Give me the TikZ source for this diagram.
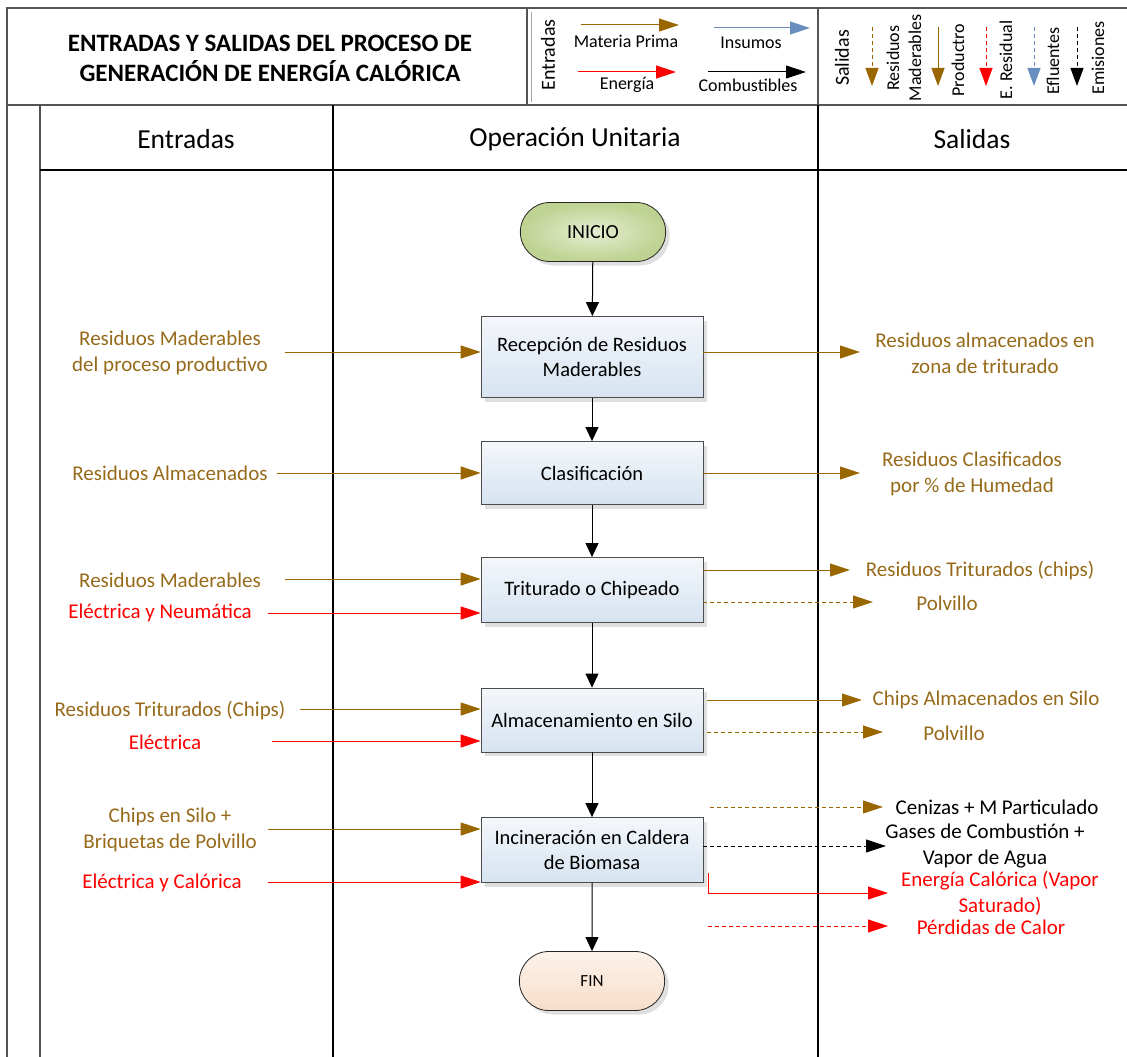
\documentclass[tikz,border=0pt]{standalone}
\usepackage{fontspec}
\setmainfont{Carlito}
\usetikzlibrary{arrows.meta,shadows,shapes.misc}
\definecolor{brn}{RGB}{153,102,0}
\definecolor{brntxt}{RGB}{150,106,26}
\definecolor{bluec}{RGB}{104,142,192}
\definecolor{poolc}{RGB}{85,85,85}
\definecolor{boxtop}{RGB}{244,247,251}
\definecolor{boxbot}{RGB}{214,227,240}
\begin{document}
\begin{tikzpicture}[x=1pt,y=-1pt,
  frame/.style={draw=poolc, line width=1.6pt},
  divider/.style={draw=black, line width=1.2pt},
  proc/.style={draw=gray!60!black, line width=0.8pt, minimum width=222pt, minimum height=64pt,
     top color=boxtop, bottom color=boxbot, align=center, font=\fontsize{20.5}{25}\selectfont,
     drop shadow={shadow xshift=4pt, shadow yshift=-4pt, fill=gray!50, opacity=0.5}},
  term/.style={rounded rectangle, draw=gray!30!black, line width=0.8pt, minimum width=152pt, minimum height=59pt,
     font=\fontsize{20}{22}\selectfont,
     drop shadow={shadow xshift=4pt, shadow yshift=-4pt, fill=gray!50, opacity=0.5}},
  lbl/.style={align=center, font=\fontsize{21}{26}\selectfont, inner sep=0pt},
  brtxt/.style={lbl, text=brntxt},
  rdtxt/.style={lbl, text=red},
  bktxt/.style={lbl, text=black},
  hdr/.style={font=\fontsize{27.5}{30}\selectfont},
  legtxt/.style={font=\fontsize{18}{22}\selectfont, inner sep=0pt, align=center},
  flow/.style={draw=black, line width=1pt, -{Triangle[length=14pt,width=13pt]}},
  brarr/.style={draw=brn, line width=1pt, -{Triangle[length=20pt,width=13pt,fill=brn]}},
  rdarr/.style={draw=red, line width=1pt, -{Triangle[length=20pt,width=13pt,fill=red]}},
  bkarr/.style={draw=black, line width=1pt, -{Triangle[length=20pt,width=13pt,fill=black]}},
  blarr/.style={draw=bluec, line width=1pt, -{Triangle[length=20pt,width=13pt,fill=bluec]}},
  dsh/.style={dash pattern=on 4pt off 3pt}
]
\useasboundingbox (0,0) rectangle (1127,1057);
% ---------- frame ----------
\draw[frame] (7,1057) -- (7,8) -- (1127,8);
\draw[frame] (7,105) -- (1127,105);
\draw[frame] (527,8) -- (527,105);
\draw[draw=gray!70, line width=0.8pt] (531,12) -- (531,102);
\draw[frame] (818,8) -- (818,105);
\draw[frame] (40,105) -- (40,1057);
\draw[divider] (40,170) -- (1127,170);
\draw[divider] (333,105) -- (333,1057);
\draw[divider] (818,105) -- (818,1057);
% ---------- title ----------
\node[font=\bfseries\fontsize{25}{30}\selectfont, align=center] (title) at (270,58)
  {ENTRADAS Y SALIDAS DEL PROCESO DE\\GENERACIÓN DE ENERGÍA CALÓRICA};
% ---------- legend entradas ----------
\node[legtxt, rotate=90, font=\fontsize{20}{22}\selectfont] (legE) at (548,55) {Entradas};
\coordinate (mp1) at (581,25); \coordinate (mp2) at (679,25);
\draw[brarr] (mp1) -- (mp2);
\node[legtxt] (mpT) at (626,41) {Materia Prima};
\coordinate (in1) at (714,28); \coordinate (in2) at (810,28);
\draw[blarr] (in1) -- (in2);
\node[legtxt] (inT) at (751,43) {Insumos};
\coordinate (en1) at (578,72); \coordinate (en2) at (676,72);
\draw[rdarr] (en1) -- (en2);
\node[legtxt] (enT) at (627,85) {Energía};
\coordinate (cb1) at (708,72); \coordinate (cb2) at (806,72);
\draw[bkarr] (cb1) -- (cb2);
\node[legtxt] (cbT) at (748,85) {Combustibles};
% ---------- legend salidas ----------
\node[legtxt, rotate=90, font=\fontsize{20}{22}\selectfont] (legS) at (842,58) {Salidas};
\coordinate (s1a) at (872,27); \coordinate (s1b) at (872,86);
\draw[brarr, dsh, -{Triangle[length=18pt,width=13pt,fill=brn]}] (s1a) -- (s1b);
\node[legtxt, rotate=90] (s1T) at (904,58) {Residuos\\Maderables};
\coordinate (s2a) at (938,27); \coordinate (s2b) at (938,86);
\draw[brarr, -{Triangle[length=18pt,width=13pt,fill=brn]}] (s2a) -- (s2b);
\node[legtxt, rotate=90] (s2T) at (958,60) {Productro};
\coordinate (s3a) at (986,27); \coordinate (s3b) at (986,86);
\draw[rdarr, dsh, -{Triangle[length=18pt,width=13pt,fill=red]}] (s3a) -- (s3b);
\node[legtxt, rotate=90] (s3T) at (1006,60) {E. Residual};
\coordinate (s4a) at (1034,27); \coordinate (s4b) at (1034,86);
\draw[blarr, dsh, -{Triangle[length=18pt,width=13pt,fill=bluec]}] (s4a) -- (s4b);
\node[legtxt, rotate=90] (s4T) at (1053,61) {Efluentes};
\coordinate (s5a) at (1077,27); \coordinate (s5b) at (1077,86);
\draw[bkarr, dsh, -{Triangle[length=18pt,width=13pt,fill=black]}] (s5a) -- (s5b);
\node[legtxt, rotate=90] (s5T) at (1098,58) {Emisiones};
% ---------- column headers ----------
\node[hdr] (hE) at (186,139) {Entradas};
\node[hdr] (hO) at (575,139) {Operación Unitaria};
\node[hdr] (hS) at (972,139) {Salidas};
% ---------- process nodes ----------
\node[term, inner color={rgb,255:red,230;green,238;blue,210}, outer color={rgb,255:red,190;green,210;blue,145}] (ini) at (593,232) {INICIO};
\node[proc, minimum height=81pt] (rec) at (592,357) {Recepción de Residuos\\Maderables};
\node[proc, minimum height=63pt] (cla) at (592,473) {Clasificación};
\node[proc, minimum height=65pt] (tri) at (592,590) {Triturado o Chipeado};
\node[proc, minimum height=64pt] (alm) at (592,720) {Almacenamiento en Silo};
\node[proc, minimum height=65pt] (inc) at (592,850) {Incineración en Caldera\\de Biomasa};
\node[term, top color={rgb,255:red,252;green,242;blue,234}, bottom color={rgb,255:red,248;green,222;blue,202}, font=\fontsize{17}{20}\selectfont] (fin) at (592,981) {FIN};
\draw[flow] (ini) -- (rec);
\draw[flow] (rec) -- (cla);
\draw[flow] (cla) -- (tri);
\draw[flow] (tri) -- (alm);
\draw[flow] (alm) -- (inc);
\draw[flow] (inc) -- (fin);
% ---------- inputs ----------
\node[brtxt] (e1) at (170,353) {Residuos Maderables\\del proceso productivo};
\coordinate (e1s) at (285,352);
\draw[brarr] (e1s) -- (rec.west |- e1s);
\node[brtxt] (e2) at (170,473) {Residuos Almacenados};
\coordinate (e2s) at (277,473);
\draw[brarr] (e2s) -- (cla.west |- e2s);
\node[brtxt] (e3) at (170,580) {Residuos Maderables};
\coordinate (e3s) at (285,579);
\draw[brarr] (e3s) -- (tri.west |- e3s);
\node[rdtxt] (e4) at (160,613) {Eléctrica y Neumática};
\coordinate (e4s) at (268,613);
\draw[rdarr] (e4s) -- (tri.west |- e4s);
\node[brtxt] (e5) at (170,711) {Residuos Triturados (Chips)};
\coordinate (e5s) at (300,709);
\draw[brarr] (e5s) -- (alm.west |- e5s);
\node[rdtxt] (e6) at (165,742) {Eléctrica};
\coordinate (e6s) at (272,741);
\draw[rdarr] (e6s) -- (alm.west |- e6s);
\node[brtxt] (e7) at (170,830) {Chips en Silo +\\Briquetas de Polvillo};
\coordinate (e7s) at (268,829);
\draw[brarr] (e7s) -- (inc.west |- e7s);
\node[rdtxt] (e8) at (162,883) {Eléctrica y Calórica};
\coordinate (e8s) at (268,882);
\draw[rdarr] (e8s) -- (inc.west |- e8s);
% ---------- outputs ----------
\node[brtxt] (o1) at (985,353) {Residuos almacenados en\\zona de triturado};
\coordinate (o1e) at (860,352);
\draw[brarr] (rec.east |- o1e) -- (o1e);
\node[brtxt] (o2) at (972,474) {Residuos Clasificados\\por \% de Humedad};
\coordinate (o2e) at (860,473);
\draw[brarr] (cla.east |- o2e) -- (o2e);
\node[brtxt] (o3) at (980,571) {Residuos Triturados (chips)};
\coordinate (o3e) at (850,570);
\draw[brarr] (tri.east |- o3e) -- (o3e);
\node[brtxt] (o4) at (947,603) {Polvillo};
\coordinate (o4e) at (873,602);
\draw[brarr, dsh] (tri.east |- o4e) -- (o4e);
\node[brtxt] (o5) at (986,700) {Chips Almacenados en Silo};
\coordinate (o5s) at (707,700); \coordinate (o5e) at (862,700);
\draw[brarr] (o5s) -- (o5e);
\node[brtxt] (o6) at (954,733) {Polvillo};
\coordinate (o6s) at (707,732); \coordinate (o6e) at (883,732);
\draw[brarr, dsh] (o6s) -- (o6e);
\node[bktxt] (o7) at (997,807) {Cenizas + M Particulado};
\coordinate (o7s) at (710,807); \coordinate (o7e) at (883,807);
\draw[brarr, dsh] (o7s) -- (o7e);
\node[bktxt] (o8) at (985,846) {Gases de Combustión +\\Vapor de Agua};
\coordinate (o8e) at (886,846);
\draw[bkarr, dsh] (inc.east |- o8e) -- (o8e);
\node[rdtxt] (o9) at (1000,893) {Energía Calórica (Vapor\\Saturado)};
\coordinate (o9s) at (708,873); \coordinate (o9e) at (888,893);
\draw[rdarr] (o9s) |- (o9e);
\node[rdtxt] (o10) at (991,927) {Pérdidas de Calor};
\coordinate (o10s) at (708,926); \coordinate (o10e) at (888,926);
\draw[rdarr, dsh] (o10s) -- (o10e);
\end{tikzpicture}
\end{document}
